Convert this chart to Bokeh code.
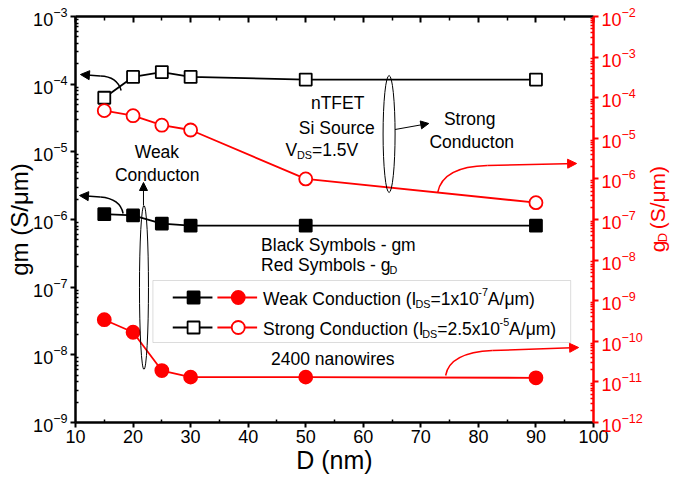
import math
from bokeh.plotting import figure
from bokeh.layouts import row
from bokeh.models import (Range1d, LogScale, LogAxis, LinearAxis, FixedTicker, Label,
                          Arrow, NormalHead, BoxAnnotation, LogTickFormatter)
from bokeh.embed import file_html
from bokeh.resources import INLINE

# ---------------- data ----------------
D_NM = [15, 20, 25, 30, 50, 90]
GM_STRONG = [6.3e-5, 1.28e-4, 1.51e-4, 1.28e-4, 1.17e-4, 1.17e-4]
GD_STRONG = [4.8e-5, 3.6e-5, 2.1e-5, 1.6e-5, 1.0e-6, 2.6e-7]
GM_WEAK = [1.2e-6, 1.15e-6, 8.7e-7, 8.1e-7, 8.1e-7, 8.1e-7]
GD_WEAK = [3.4e-10, 1.67e-10, 1.9e-11, 1.31e-11, 1.31e-11, 1.26e-11]

X_TICKS = [10, 20, 30, 40, 50, 60, 70, 80, 90, 100]
GM_DECADES = [-9, -8, -7, -6, -5, -4, -3]
GD_DECADES = [-12, -11, -10, -9, -8, -7, -6, -5, -4, -3, -2]

FONT = "Liberation Sans"
RED = "#ff0000"
BLACK = "#000000"

W, H = 677, 477
MAIN_W = 645
FL, FR, FT, FB = 75, 597, 16, 422
XMIN, XMAX = 10, 100
YMIN_E, YMAX_E = -9, -3


def dx(px):
    return XMIN + (px - FL) / (FR - FL) * (XMAX - XMIN)


def dy(py):
    return 10 ** (YMAX_E - (py - FT) / (FB - FT) * (YMAX_E - YMIN_E))


AW = {' ': 278, '(': 333, ')': 333, '-': 333, '.': 278, '/': 278, '=': 584,
      'A': 667, 'B': 667, 'C': 722, 'D': 722, 'E': 667, 'F': 611, 'I': 278,
      'N': 722, 'R': 722, 'S': 667, 'T': 611, 'V': 667, 'W': 944,
      'a': 556, 'b': 556, 'c': 500, 'd': 556, 'e': 556, 'g': 556, 'i': 222,
      'k': 500, 'l': 222, 'm': 833, 'n': 556, 'o': 556, 'r': 333, 's': 500,
      't': 278, 'u': 556, 'w': 722, 'x': 500, 'y': 500, 'μ': 576}


def tw(s, fs):
    return sum(AW.get(c, 556) for c in s) * fs / 1000.0


p = figure(width=MAIN_W, height=H, output_backend="svg", toolbar_location=None,
           x_range=Range1d(XMIN, XMAX), y_range=Range1d(10.0 ** YMIN_E, 10.0 ** YMAX_E),
           y_axis_type="log",
           min_border_left=FL, min_border_right=MAIN_W - FR, min_border_top=FT,
           min_border_bottom=H - FB)
p.outline_line_color = None
p.grid.visible = False
p.background_fill_color = "white"
p.border_fill_color = "white"

p.extra_y_ranges = {"gd": Range1d(10.0 ** GD_DECADES[0], 10.0 ** GD_DECADES[-1])}
p.extra_y_scales = {"gd": LogScale()}

x_ticker = FixedTicker(ticks=X_TICKS, minor_ticks=[t + 5 for t in X_TICKS[:-1]])
gm_ticker = FixedTicker(ticks=[10.0 ** k for k in GM_DECADES],
                        minor_ticks=[m * 10.0 ** k for k in GM_DECADES[:-1] for m in range(2, 10)])
gd_ticker = FixedTicker(ticks=[10.0 ** k for k in GD_DECADES],
                        minor_ticks=[m * 10.0 ** k for k in GD_DECADES[:-1] for m in range(2, 10)])


def style_axis(ax, color, label_size="18px"):
    ax.axis_line_color = color
    ax.axis_line_width = 2.5
    ax.major_tick_line_color = color
    ax.minor_tick_line_color = color
    ax.major_tick_line_width = 2
    ax.minor_tick_line_width = 1.5
    ax.major_label_text_color = color
    ax.major_label_text_font = FONT
    ax.major_label_text_font_size = label_size
    ax.major_tick_out = 5
    ax.major_tick_in = 0
    ax.minor_tick_in = 3
    ax.minor_tick_out = 0
    ax.major_label_standoff = 3
    ax.axis_label_text_font = FONT
    ax.axis_label_text_font_style = "normal"
    ax.axis_label_text_color = color


xa = p.xaxis[0]
xa.ticker = x_ticker
style_axis(xa, BLACK)
xa.axis_label = "D (nm)"
xa.axis_label_text_font_size = "25px"
xa.axis_label_standoff = 0
xa.major_label_standoff = 2

ya = p.yaxis[0]
ya.ticker = gm_ticker
ya.formatter = LogTickFormatter()
style_axis(ya, BLACK)
ya.axis_label = "gm (S/μm)"
ya.axis_label_text_font_size = "24px"
ya.axis_label_standoff = -3

ra = LogAxis(y_range_name="gd", ticker=gd_ticker, formatter=LogTickFormatter())
style_axis(ra, RED)
p.add_layout(ra, "right")

ta = LinearAxis(ticker=x_ticker)
style_axis(ta, BLACK)
ta.major_label_text_color = None
ta.major_label_text_font_size = "1px"
ta.major_label_standoff = 0
ta.major_tick_out = 0
ta.major_tick_in = 6
ta.minor_tick_in = 4
p.add_layout(ta, "above")

# ---------------- data series ----------------
p.line(D_NM, GM_STRONG, line_color=BLACK, line_width=1.8)
p.scatter(D_NM, GM_STRONG, marker="square", size=12, fill_color="white",
          line_color=BLACK, line_width=1.8)
p.line(D_NM, GM_WEAK, line_color=BLACK, line_width=1.8)
p.scatter(D_NM, GM_WEAK, marker="square", size=12, fill_color=BLACK,
          line_color=BLACK, line_width=1.8)
p.line(D_NM, GD_STRONG, line_color=RED, line_width=1.8, y_range_name="gd")
p.scatter(D_NM, GD_STRONG, marker="circle", size=13, fill_color="white",
          line_color=RED, line_width=1.8, y_range_name="gd")
p.line(D_NM, GD_WEAK, line_color=RED, line_width=1.8, y_range_name="gd")
p.scatter(D_NM, GD_WEAK, marker="circle", size=13, fill_color=RED,
          line_color=RED, line_width=1.8, y_range_name="gd")


# ---------------- annotations ----------------
def curve_arrow(p0, c, p1, tip, color):
    p.quadratic(x0=[dx(p0[0])], y0=[dy(p0[1])], x1=[dx(p1[0])], y1=[dy(p1[1])],
                cx=[dx(c[0])], cy=[dy(c[1])], line_color=color, line_width=1.5)
    p.add_layout(Arrow(end=NormalHead(size=9, fill_color=color, line_color=color),
                       x_start=dx(p1[0]), y_start=dy(p1[1]), x_end=dx(tip[0]), y_end=dy(tip[1]),
                       line_color=color, line_width=1.5))


curve_arrow((121, 90), (117, 76), (100, 75.5), (80, 74), BLACK)
curve_arrow((123, 213), (120, 198), (100, 196.5), (79, 195), BLACK)
curve_arrow((440, 192), (445, 166), (490, 165), (580, 163), RED)
curve_arrow((448, 375), (452, 352), (495, 350), (582, 347), RED)

# ellipses
p.ellipse(x=[dx(391)], y=[dy(133.5)], width=12, height=117, width_units="screen",
          height_units="screen", fill_color=None, line_color=BLACK, line_width=1)
p.ellipse(x=[dx(144)], y=[dy(287)], width=9, height=164, width_units="screen",
          height_units="screen", fill_color=None, line_color=BLACK, line_width=1)
p.add_layout(Arrow(end=NormalHead(size=8, fill_color=BLACK, line_color=BLACK),
                   x_start=dx(397), y_start=dy(129), x_end=dx(431), y_end=dy(123),
                   line_color=BLACK, line_width=1))
p.add_layout(Arrow(end=NormalHead(size=8, fill_color=BLACK, line_color=BLACK),
                   x_start=dx(143.5), y_start=dy(205), x_end=dx(143.5), y_end=dy(182),
                   line_color=BLACK, line_width=1))

BASE_ADJ = -4.5


def rich(parts, px, pyc, fs, color=BLACK, align="left"):
    small = fs * 0.62
    widths = [tw(t, fs if k == "n" else small) for t, k in parts]
    total = sum(widths)
    x = px - total / 2 if align == "center" else px
    base = pyc + 0.36 * fs + BASE_ADJ
    for (t, k), w in zip(parts, widths):
        f = fs if k == "n" else small
        yb = base + (0.25 * fs if k == "sub" else (-0.42 * fs if k == "sup" else 0))
        lead = tw(t[:len(t) - len(t.lstrip())], f)
        p.add_layout(Label(x=dx(x + lead), y=dy(yb), text=t.lstrip(), text_font=FONT,
                           text_font_size=f"{f:.1f}px", text_color=color,
                           text_align="left", text_baseline="alphabetic"))
        x += w


FS = 17.5
rich([("Weak", "n")], 157, 150, FS, align="center")
rich([("Conducton", "n")], 157, 172.5, FS, align="center")
rich([("nTFET", "n")], 339, 100.5, FS, align="center")
rich([("Si Source", "n")], 338, 125.5, FS, align="center")
rich([("V", "n"), ("DS", "sub"), ("=1.5V", "n")], 323, 148, FS, align="center")
rich([("Strong", "n")], 472, 117, FS, align="center")
rich([("Conducton", "n")], 474, 139.5, FS, align="center")
rich([("Black Symbols - gm", "n")], 262, 243, FS)
rich([("Red Symbols - g", "n"), ("D", "sub")], 262, 263, FS)
rich([("2400 nanowires", "n")], 272, 356.5, FS)

# legend (hand-built)
p.add_layout(BoxAnnotation(left=dx(153), right=dx(574), top=dy(280), bottom=dy(342),
                           fill_color=None, line_color="#8c8c8c", line_width=1))
for row_y, filled in ((297, True), (327, False)):
    p.line([dx(173), dx(213)], [dy(row_y), dy(row_y)], line_color=BLACK, line_width=1.8)
    p.scatter([dx(194)], [dy(row_y)], marker="square", size=12,
              fill_color=BLACK if filled else "white", line_color=BLACK, line_width=1.8)
    p.line([dx(218), dx(258)], [dy(row_y), dy(row_y)], line_color=RED, line_width=1.8)
    p.scatter([dx(239)], [dy(row_y)], marker="circle", size=13,
              fill_color=RED if filled else "white", line_color=RED, line_width=1.8)
rich([("Weak Conduction (I", "n"), ("DS", "sub"), ("=1x10", "n"), ("-7", "sup"),
      ("A/μm)", "n")], 264, 297, FS)
rich([("Strong Conduction (I", "n"), ("DS", "sub"), ("=2.5x10", "n"), ("-5", "sup"),
      ("A/μm)", "n")], 264, 327, FS)

# ---------------- right-side strip holding the g_D axis title ----------------
side = figure(width=W - MAIN_W, height=H, output_backend="svg", toolbar_location=None,
              x_range=Range1d(MAIN_W, W), y_range=Range1d(H, 0),
              min_border_left=0, min_border_right=0, min_border_top=0, min_border_bottom=0)
side.xaxis.visible = False
side.yaxis.visible = False
side.grid.visible = False
side.outline_line_color = None
side.background_fill_color = "white"
side.border_fill_color = "white"

RFS = 21
base_x = 661 + BASE_ADJ
y0 = 277.0
for t, k in (("g", "n"), ("D", "sub"), (" ", "n"), ("(S/μm)", "n")):
    f = RFS if k == "n" else RFS * 0.62
    if t.strip():
        bx = base_x + (0.25 * RFS if k == "sub" else 0)
        side.add_layout(Label(x=bx, y=y0, text=t, text_font=FONT, text_font_size=f"{f:.1f}px",
                              text_align="left", text_baseline="alphabetic", text_color=RED,
                              angle=math.pi / 2))
    y0 -= tw(t, f)

layout = row(p, side, spacing=0)
open("out.html", "w").write(file_html(layout, INLINE))
